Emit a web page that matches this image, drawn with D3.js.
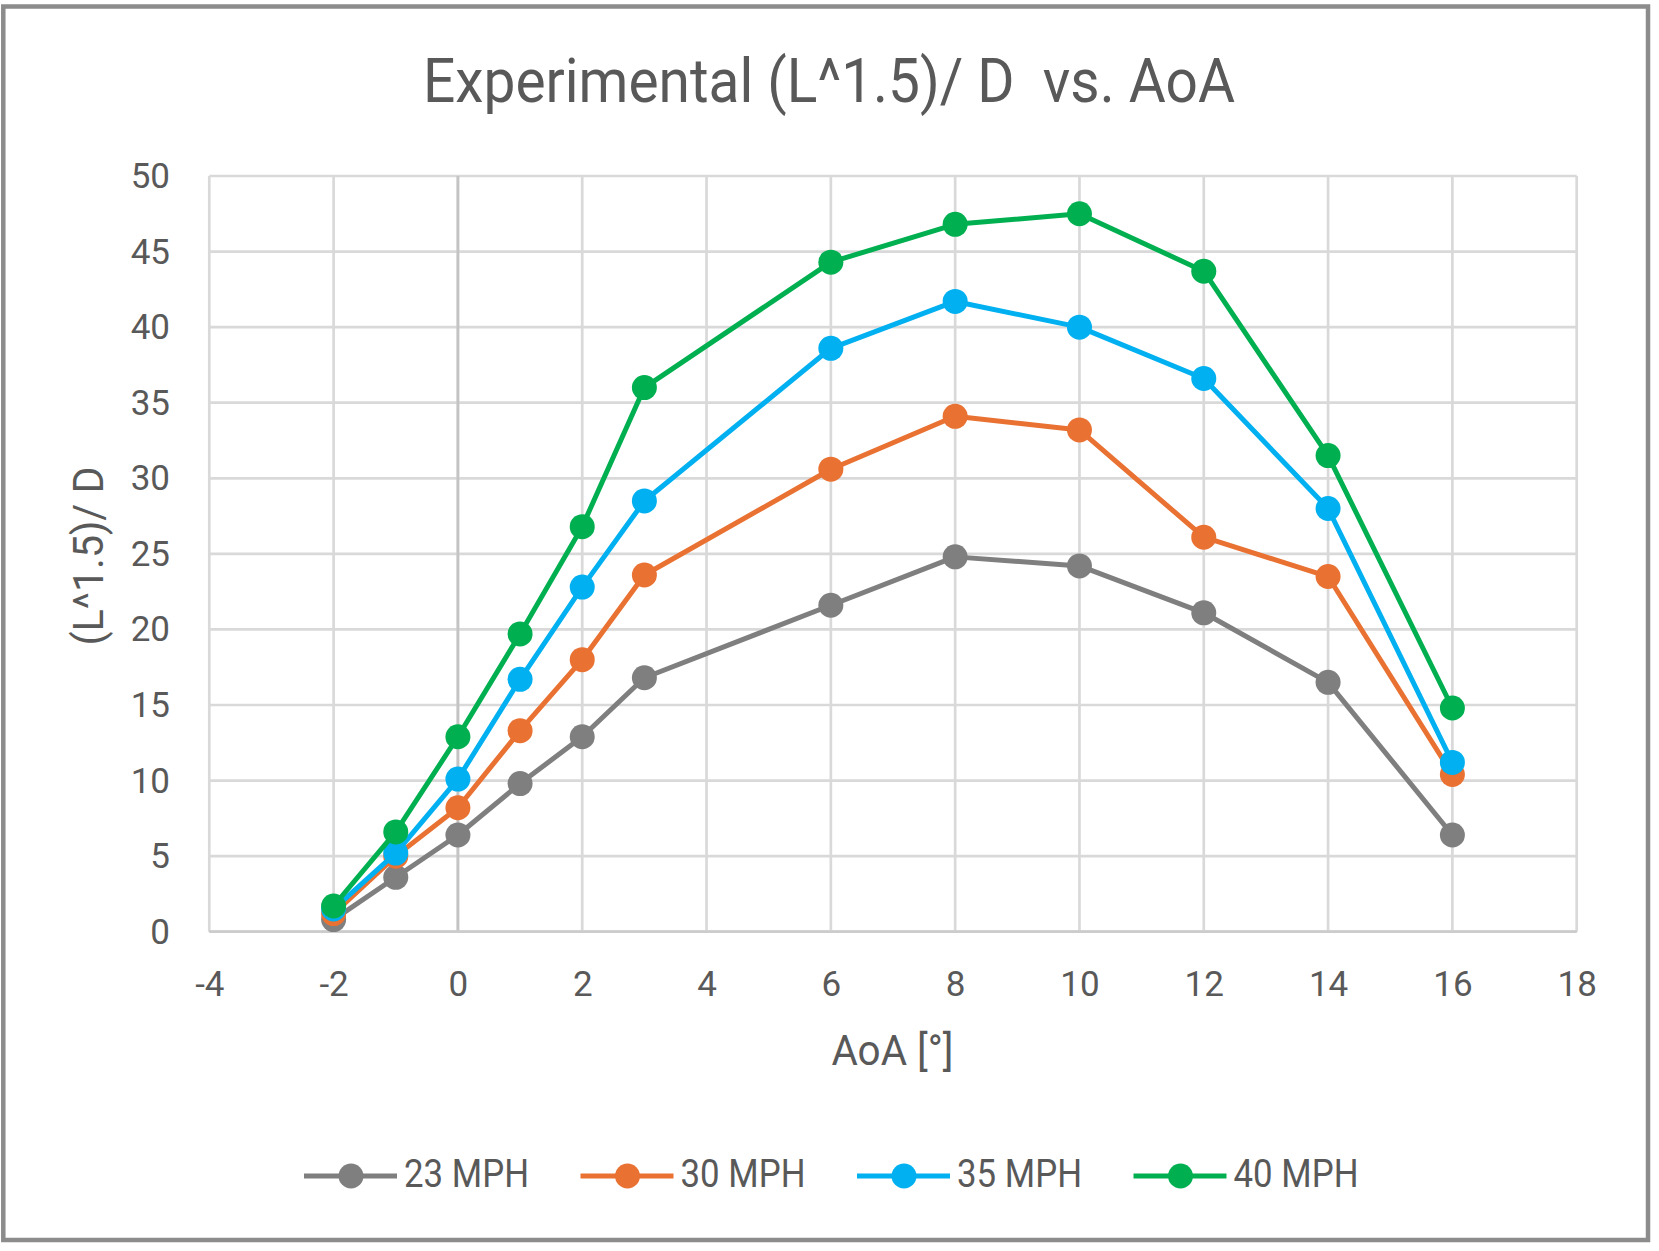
<!DOCTYPE html>
<html>
<head>
<meta charset="utf-8">
<script src="https://cdn.jsdelivr.net/npm/d3@7/dist/d3.min.js"></script>
<style>
  html, body { margin: 0; padding: 0; background: #fff; }
  svg { display: block; }
</style>
</head>
<body>
<svg id="chart" width="1659" height="1251"></svg>
<script>
// ---- data ----
const aoa = [-2, -1, 0, 1, 2, 3, 6, 8, 10, 12, 14, 16];
const seriesNames = ["23 MPH", "30 MPH", "35 MPH", "40 MPH"];
const mph23 = [0.8, 3.6, 6.4, 9.8, 12.9, 16.8, 21.6, 24.8, 24.2, 21.1, 16.5, 6.4];
const mph30 = [1.2, 5.0, 8.2, 13.3, 18.0, 23.6, 30.6, 34.1, 33.2, 26.1, 23.5, 10.4];
const mph35 = [1.5, 5.2, 10.1, 16.7, 22.8, 28.5, 38.6, 41.7, 40.0, 36.6, 28.0, 11.2];
const mph40 = [1.7, 6.6, 12.9, 19.7, 26.8, 36.0, 44.3, 46.8, 47.5, 43.7, 31.5, 14.8];
const seriesColors = ["#7f7f7f", "#e97132", "#00b0f0", "#00b050"];
const xTicks = [-4, -2, 0, 2, 4, 6, 8, 10, 12, 14, 16, 18];
const yTicks = [0, 5, 10, 15, 20, 25, 30, 35, 40, 45, 50];
const titleText = "Experimental (L^1.5)/ D  vs. AoA";
const xTitle = "AoA [°]";
const yTitle = "(L^1.5)/ D";

const allSeries = [mph23, mph30, mph35, mph40].map((vals, i) => ({
  name: seriesNames[i], color: seriesColors[i],
  points: aoa.map((a, j) => ({x: a, y: vals[j]}))
}));

// ---- layout ----
const svg = d3.select("#chart");
const FONT = "Roboto, 'Noto Sans', sans-serif";
const TXT = "#595959";
const plot = {left: 209.3, right: 1576.7, top: 176, bottom: 931.7};

const x = d3.scaleLinear().domain([-4, 18]).range([plot.left, plot.right]);
const y = d3.scaleLinear().domain([0, 50]).range([plot.bottom, plot.top]);
const fmt = d => String(d); // plain hyphen-minus like the reference

// outer border
svg.append("rect")
  .attr("x", 3.3).attr("y", 6.5)
  .attr("width", 1648 - 3.3).attr("height", 1240 - 6.5)
  .attr("fill", "#fff").attr("stroke", "#8c8c8c").attr("stroke-width", 4.5);

// gridlines
const grid = svg.append("g");
grid.selectAll("line.h").data(yTicks).join("line")
  .attr("x1", plot.left).attr("x2", plot.right)
  .attr("y1", d => y(d)).attr("y2", d => y(d))
  .attr("stroke", "#d9d9d9").attr("stroke-width", 2.7);
grid.selectAll("line.v").data(xTicks).join("line")
  .attr("y1", plot.top).attr("y2", plot.bottom)
  .attr("x1", d => x(d)).attr("x2", d => x(d))
  .attr("stroke", "#d9d9d9").attr("stroke-width", 2.7);

// axes lines (vertical axis crosses at 0)
svg.append("line")
  .attr("x1", x(0)).attr("x2", x(0)).attr("y1", plot.top).attr("y2", plot.bottom)
  .attr("stroke", "#c4c4c4").attr("stroke-width", 2.7);
svg.append("line")
  .attr("x1", plot.left).attr("x2", plot.right).attr("y1", y(0)).attr("y2", y(0))
  .attr("stroke", "#cccccc").attr("stroke-width", 2.7);

// axis tick labels via d3 axes
const xAxis = d3.axisBottom(x).tickValues(xTicks).tickSize(0).tickPadding(0).tickFormat(fmt);
const gx = svg.append("g").attr("transform", `translate(0, 995.5)`).call(xAxis);
gx.select(".domain").remove();
gx.selectAll("text").attr("dy", 0).attr("y", 0)
  .attr("font-family", FONT).attr("font-size", 35).attr("fill", TXT);

const yAxis = d3.axisLeft(y).tickValues(yTicks).tickSize(0).tickPadding(0).tickFormat(fmt);
const gy = svg.append("g").attr("transform", `translate(170, 0)`).call(yAxis);
gy.select(".domain").remove();
gy.selectAll("text").attr("x", 0).attr("dy", "0.33em")
  .attr("font-family", FONT).attr("font-size", 35).attr("fill", TXT);

// title
svg.append("text")
  .attr("x", 829).attr("y", 102)
  .attr("text-anchor", "middle")
  .attr("font-family", FONT).attr("font-size", 60.5).attr("fill", TXT)
  .attr("textLength", 812).attr("lengthAdjust", "spacingAndGlyphs")
  .style("white-space", "pre")
  .text(titleText);

// axis titles
svg.append("text")
  .attr("x", 892.5).attr("y", 1065)
  .attr("text-anchor", "middle")
  .attr("font-family", FONT).attr("font-size", 42).attr("fill", TXT)
  .attr("textLength", 122).attr("lengthAdjust", "spacingAndGlyphs")
  .text(xTitle);

svg.append("text")
  .attr("transform", "translate(103, 556) rotate(-90)")
  .attr("text-anchor", "middle")
  .attr("font-family", FONT).attr("font-size", 42).attr("fill", TXT)
  .attr("textLength", 179).attr("lengthAdjust", "spacingAndGlyphs")
  .text(yTitle);

// series
const line = d3.line().x(d => x(d.x)).y(d => y(d.y));
const gs = svg.append("g");
allSeries.forEach(s => {
  const g = gs.append("g");
  g.append("path").datum(s.points)
    .attr("d", line).attr("fill", "none")
    .attr("stroke", s.color).attr("stroke-width", 5)
    .attr("stroke-linejoin", "round");
  g.selectAll("circle").data(s.points).join("circle")
    .attr("cx", d => x(d.x)).attr("cy", d => y(d.y)).attr("r", 12.5)
    .attr("fill", s.color);
});

// legend
const legendY = 1176;
const lx = d3.scaleLinear().domain([0, 1]).range([304, 580.5]);
const lg = svg.append("g");
allSeries.forEach((s, i) => {
  const x0 = lx(i);
  lg.append("line")
    .attr("x1", x0).attr("x2", x0 + 93).attr("y1", legendY).attr("y2", legendY)
    .attr("stroke", s.color).attr("stroke-width", 5);
  lg.append("circle").attr("cx", x0 + 47).attr("cy", legendY).attr("r", 12.5).attr("fill", s.color);
  lg.append("text")
    .attr("x", x0 + 100).attr("y", legendY + 11)
    .attr("font-family", FONT).attr("font-size", 38).attr("fill", TXT)
    .attr("textLength", 125).attr("lengthAdjust", "spacingAndGlyphs")
    .text(s.name);
});
</script>
</body>
</html>
